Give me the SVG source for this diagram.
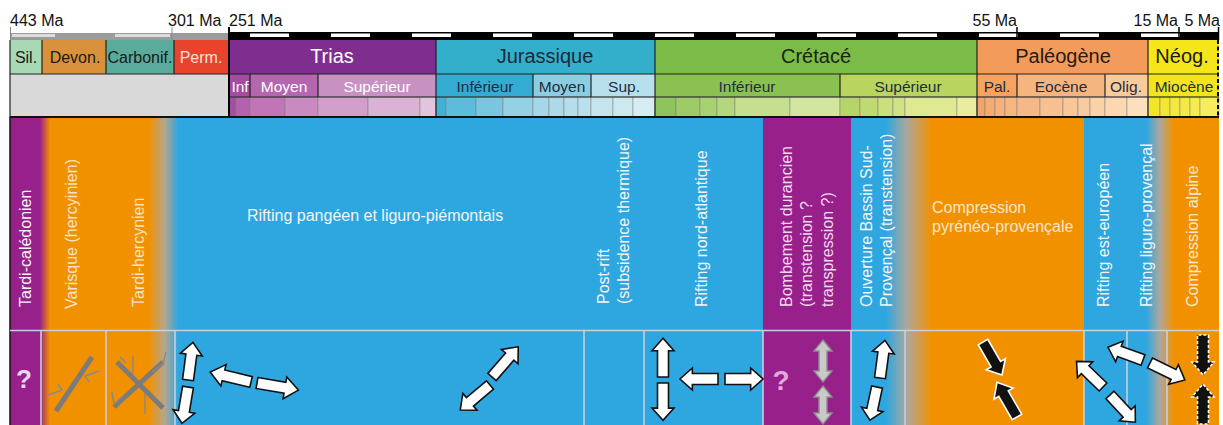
<svg xmlns="http://www.w3.org/2000/svg" width="1223" height="425" viewBox="0 0 1223 425">
<style>
text{font-family:"Liberation Sans",Arial,sans-serif}
.lab{font-size:16px;fill:#111}
.per{font-size:20px;text-anchor:middle}
.sm{font-size:16px;text-anchor:middle;fill:#1a1a1a}
.ep{font-size:15.5px;text-anchor:middle}
.v{font-size:16px;fill:#f4f4f4}
.h{font-size:16px;fill:#f4f4f4}
.bd{stroke:#222;stroke-width:1.2;fill:none}
.st rect{stroke:#7d7d7d;stroke-width:0.5}
.sep{stroke:#c9cfdc;stroke-width:1.6}
.wa{fill:#fff;stroke:#111;stroke-width:1.6;stroke-linejoin:miter}
.ba{fill:#111;stroke:#fff;stroke-width:1.6}
.da{fill:#111;stroke:#fff;stroke-width:1.6;stroke-dasharray:3 2}
.ga{fill:#c9c9c9;stroke:#8e8e8e;stroke-width:1.4}
.fk{stroke:#7b7b7b;stroke-width:5;stroke-linecap:butt}
.ft{stroke:#8a8a8a;stroke-width:1.5;fill:none}
</style>
<defs>
<path id="arr" d="M0,-5.5 H27 V-11 L40,0 L27,11 V5.5 H0 Z" vector-effect="non-scaling-stroke"/>
<linearGradient id="gL" gradientUnits="userSpaceOnUse" x1="10" y1="0" x2="180" y2="0">
<stop offset="0" stop-color="#97208a"/>
<stop offset="0.175" stop-color="#97208a"/>
<stop offset="0.235" stop-color="#f29100"/>
<stop offset="0.815" stop-color="#f29100"/>
<stop offset="0.91" stop-color="#b4a690"/>
<stop offset="0.99" stop-color="#2ea7e0"/>
</linearGradient>
<linearGradient id="gM" gradientUnits="userSpaceOnUse" x1="886" y1="0" x2="932" y2="0">
<stop offset="0" stop-color="#2ea7e0"/>
<stop offset="0.45" stop-color="#aca79c"/>
<stop offset="1" stop-color="#f29100"/>
</linearGradient>
<linearGradient id="gR" gradientUnits="userSpaceOnUse" x1="1146" y1="0" x2="1174" y2="0">
<stop offset="0" stop-color="#2ea7e0"/>
<stop offset="0.5" stop-color="#aca79c"/>
<stop offset="1" stop-color="#f29100"/>
</linearGradient>
</defs>

<g id="scale-labels">
<text class="lab" x="10" y="26">443 Ma</text>
<text class="lab" x="168" y="26">301 Ma</text>
<text class="lab" x="229" y="26">251 Ma</text>
<text class="lab" x="1017" y="26" text-anchor="end">55 Ma</text>
<text class="lab" x="1178" y="26" text-anchor="end">15 Ma</text>
<text class="lab" x="1220" y="26" text-anchor="end">5 Ma</text>
</g>

<g id="scale-bar">
<rect x="10" y="33" width="219" height="7" fill="#9b9b9b"/>
<rect x="12" y="34" width="43" height="3" fill="#dcdcdc"/>
<rect x="115" y="34" width="55" height="3" fill="#dcdcdc"/>
<line x1="10.5" y1="27" x2="10.5" y2="40" stroke="#888" stroke-width="1"/>
<line x1="172" y1="27" x2="172" y2="40" stroke="#888" stroke-width="1"/>
<rect x="229" y="32" width="990" height="8" fill="#000"/>
<g fill="#fff">
<rect x="250" y="33.5" width="39" height="3.5"/>
<rect x="331" y="33.5" width="39" height="3.5"/>
<rect x="412" y="33.5" width="39" height="3.5"/>
<rect x="493" y="33.5" width="39" height="3.5"/>
<rect x="574" y="33.5" width="39" height="3.5"/>
<rect x="655" y="33.5" width="39" height="3.5"/>
<rect x="736" y="33.5" width="39" height="3.5"/>
<rect x="817" y="33.5" width="39" height="3.5"/>
<rect x="898" y="33.5" width="39" height="3.5"/>
<rect x="979" y="33.5" width="39" height="3.5"/>
<rect x="1060" y="33.5" width="39" height="3.5"/>
<rect x="1141" y="33.5" width="39" height="3.5"/>
</g>
<g stroke="#000" stroke-width="1.5">
<line x1="1017" y1="27" x2="1017" y2="40"/>
<line x1="1179" y1="27" x2="1179" y2="40"/>
<line x1="1218.5" y1="27" x2="1218.5" y2="40"/>
</g>
</g>

<g id="periods">
<rect x="10" y="40" width="32" height="34" fill="#a9d8b5"/>
<rect x="42" y="40" width="64" height="34" fill="#d9923b"/>
<rect x="106" y="40" width="68" height="34" fill="#5aab9b"/>
<rect x="174" y="40" width="55" height="34" fill="#e8432c"/>
<rect x="229" y="40" width="207" height="34" fill="#7e2e8e"/>
<rect x="436" y="40" width="219" height="34" fill="#33aecb"/>
<rect x="655" y="40" width="322" height="34" fill="#7bbb48"/>
<rect x="977" y="40" width="171" height="34" fill="#f29b5b"/>
<rect x="1148" y="40" width="71" height="34" fill="#f5e61c"/>
<text class="sm" x="26" y="63">Sil.</text>
<text class="sm" x="75" y="63">Devon.</text>
<text class="sm" x="140" y="63">Carbonif.</text>
<text class="sm" x="201" y="63" fill="#fde2da" style="fill:#fde2da">Perm.</text>
<text class="per" x="332" y="63" fill="#fff">Trias</text>
<text class="per" x="545" y="63" fill="#1b2a3a">Jurassique</text>
<text class="per" x="816" y="63" fill="#1a2412">Crétacé</text>
<text class="per" x="1063" y="63" fill="#2a1a10">Paléogène</text>
<text class="per" x="1182" y="63" fill="#1a1a10">Néog.</text>
</g>

<g id="epochs">
<rect x="10" y="74" width="219" height="43" fill="#d9d9d9"/>
<rect x="229" y="74" width="21" height="23" fill="#a24d9f"/>
<rect x="250" y="74" width="68" height="23" fill="#b467ae"/>
<rect x="318" y="74" width="118" height="23" fill="#c792c2"/>
<rect x="436" y="74" width="97" height="23" fill="#33abd2"/>
<rect x="533" y="74" width="58" height="23" fill="#8ccde2"/>
<rect x="591" y="74" width="64" height="23" fill="#b8e0ec"/>
<rect x="655" y="74" width="185" height="23" fill="#8bc152"/>
<rect x="840" y="74" width="137" height="23" fill="#b9d45f"/>
<rect x="977" y="74" width="40" height="23" fill="#f5a262"/>
<rect x="1017" y="74" width="88" height="23" fill="#f6b47f"/>
<rect x="1105" y="74" width="43" height="23" fill="#f9ca9c"/>
<rect x="1148" y="74" width="71" height="23" fill="#f2e520"/>
<g fill="#fff">
<text class="ep" x="240" y="92">Inf</text>
<text class="ep" x="284" y="92">Moyen</text>
<text class="ep" x="377" y="92">Supérieur</text>
</g>
<g fill="#1e2e3e">
<text class="ep" x="485" y="92">Inférieur</text>
<text class="ep" x="562" y="92">Moyen</text>
<text class="ep" x="624" y="92">Sup.</text>
<text class="ep" x="747" y="92">Inférieur</text>
<text class="ep" x="908" y="92">Supérieur</text>
<text class="ep" x="997" y="92">Pal.</text>
<text class="ep" x="1061" y="92">Eocène</text>
<text class="ep" x="1126" y="92">Olig.</text>
<text class="ep" x="1184" y="92">Miocène</text>
</g>
</g>

<g id="stages" class="st">
<rect x="229" y="97" width="7" height="20" fill="#a14f9f"/>
<rect x="236" y="97" width="14" height="20" fill="#b462ad"/>
<rect x="250" y="97" width="35" height="20" fill="#c175b7"/>
<rect x="285" y="97" width="33" height="20" fill="#c98ac2"/>
<rect x="318" y="97" width="50" height="20" fill="#d29fcb"/>
<rect x="368" y="97" width="52" height="20" fill="#d9b2d4"/>
<rect x="420" y="97" width="16" height="20" fill="#e2c4df"/>
<rect x="436" y="97" width="10" height="20" fill="#3db1d6"/>
<rect x="446" y="97" width="30" height="20" fill="#5bbcdc"/>
<rect x="476" y="97" width="27" height="20" fill="#78c6e0"/>
<rect x="503" y="97" width="30" height="20" fill="#95d1e5"/>
<rect x="533" y="97" width="16" height="20" fill="#a5d7e8"/>
<rect x="549" y="97" width="15" height="20" fill="#add9e8"/>
<rect x="564" y="97" width="14" height="20" fill="#b5ddea"/>
<rect x="578" y="97" width="13" height="20" fill="#bce0eb"/>
<rect x="591" y="97" width="22" height="20" fill="#c5e4ee"/>
<rect x="613" y="97" width="20" height="20" fill="#cde9f0"/>
<rect x="633" y="97" width="22" height="20" fill="#d6edf3"/>
<rect x="655" y="97" width="21" height="20" fill="#8fc45c"/>
<rect x="676" y="97" width="24" height="20" fill="#9ccb67"/>
<rect x="700" y="97" width="17" height="20" fill="#a8d172"/>
<rect x="717" y="97" width="18" height="20" fill="#b4d77d"/>
<rect x="735" y="97" width="55" height="20" fill="#c4e08f"/>
<rect x="790" y="97" width="50" height="20" fill="#d2e6a0"/>
<rect x="840" y="97" width="20" height="20" fill="#b5d56a"/>
<rect x="860" y="97" width="18" height="20" fill="#c0da72"/>
<rect x="878" y="97" width="15" height="20" fill="#cbdf7c"/>
<rect x="893" y="97" width="12" height="20" fill="#d2e283"/>
<rect x="905" y="97" width="52" height="20" fill="#dee992"/>
<rect x="957" y="97" width="20" height="20" fill="#e8ee9e"/>
<rect x="977" y="97" width="8" height="20" fill="#f5a469"/>
<rect x="985" y="97" width="10" height="20" fill="#f6ab72"/>
<rect x="995" y="97" width="10" height="20" fill="#f6b07a"/>
<rect x="1005" y="97" width="12" height="20" fill="#f7b680"/>
<rect x="1017" y="97" width="23" height="20" fill="#f7b888"/>
<rect x="1040" y="97" width="23" height="20" fill="#f8c090"/>
<rect x="1063" y="97" width="15" height="20" fill="#f9c698"/>
<rect x="1078" y="97" width="12" height="20" fill="#f9cca0"/>
<rect x="1090" y="97" width="15" height="20" fill="#fad2a8"/>
<rect x="1105" y="97" width="22" height="20" fill="#fbd8b2"/>
<rect x="1127" y="97" width="21" height="20" fill="#fcdfbc"/>
<rect x="1148" y="97" width="12" height="20" fill="#f2e52a"/>
<rect x="1160" y="97" width="10" height="20" fill="#f3e634"/>
<rect x="1170" y="97" width="10" height="20" fill="#f4e83e"/>
<rect x="1180" y="97" width="10" height="20" fill="#f4e948"/>
<rect x="1190" y="97" width="10" height="20" fill="#f5ea52"/>
<rect x="1200" y="97" width="19" height="20" fill="#f6ec60"/>
</g>

<g id="chart-borders">
<line class="bd" x1="10" y1="74" x2="1219" y2="74"/>
<line class="bd" x1="229" y1="97" x2="1219" y2="97"/>
<g class="bd">
<line x1="42" y1="40" x2="42" y2="74"/>
<line x1="106" y1="40" x2="106" y2="74"/>
<line x1="174" y1="40" x2="174" y2="74"/>
<line x1="250" y1="74" x2="250" y2="97"/>
<line x1="318" y1="74" x2="318" y2="97"/>
<line x1="533" y1="74" x2="533" y2="97"/>
<line x1="591" y1="74" x2="591" y2="97"/>
<line x1="840" y1="74" x2="840" y2="97"/>
<line x1="1017" y1="74" x2="1017" y2="97"/>
<line x1="1105" y1="74" x2="1105" y2="97"/>
<line x1="10" y1="40" x2="10" y2="117"/>
<line x1="436" y1="40" x2="436" y2="117"/>
<line x1="655" y1="40" x2="655" y2="117"/>
<line x1="977" y1="40" x2="977" y2="117"/>
<line x1="1148" y1="40" x2="1148" y2="117"/>
</g>
<line x1="229" y1="27" x2="229" y2="117" stroke="#000" stroke-width="2"/>
<line x1="1218" y1="40" x2="1218" y2="117" stroke="#000" stroke-width="2" stroke-dasharray="4 2.5"/>
</g>

<g id="band">
<rect x="10" y="117" width="1209" height="308" fill="#2ea7e0"/>
<rect x="10" y="117" width="170" height="308" fill="url(#gL)"/>
<rect x="763" y="117" width="88" height="308" fill="#97208a"/>
<rect x="886" y="117" width="46" height="308" fill="url(#gM)"/>
<rect x="931" y="117" width="153" height="308" fill="#f29100"/>
<rect x="1146" y="117" width="28" height="308" fill="url(#gR)"/>
<rect x="1173" y="117" width="46" height="308" fill="#f29100"/>
<line x1="10" y1="117" x2="1219" y2="117" stroke="#111" stroke-width="2"/>
<line x1="10" y1="117" x2="10" y2="425" stroke="#111" stroke-width="1.5"/>
</g>

<g id="labels">
<text class="v" transform="translate(31,307) rotate(-90)">Tardi-calédonien</text>
<text class="v" transform="translate(77,309) rotate(-90)" style="fill:#f7e2c4">Varisque (hercyinien)</text>
<text class="v" transform="translate(144,307) rotate(-90)" style="fill:#f7e2c4">Tardi-hercynien</text>
<text class="h" x="247" y="221">Rifting pangéen et liguro-piémontais</text>
<text class="v" transform="translate(609,304) rotate(-90)">Post-rift</text>
<text class="v" transform="translate(629,304) rotate(-90)">(subsidence thermique)</text>
<text class="v" transform="translate(707,307) rotate(-90)">Rifting nord-atlantique</text>
<text class="v" transform="translate(792,307) rotate(-90)" style="fill:#f2d8ee">Bombement durancien</text>
<text class="v" transform="translate(812,307) rotate(-90)" style="fill:#f2d8ee">(transtension ?</text>
<text class="v" transform="translate(833,307) rotate(-90)" style="fill:#f2d8ee">transpression ?)</text>
<text class="v" transform="translate(872,307) rotate(-90)">Ouverture Bassin Sud-</text>
<text class="v" transform="translate(892,307) rotate(-90)">Provençal (transtension)</text>
<text class="h" x="932" y="213" style="fill:#f9e6c8">Compression</text>
<text class="h" x="932" y="232" style="fill:#f9e6c8">pyrénéo-provençale</text>
<text class="v" transform="translate(1109,307) rotate(-90)">Rifting est-européen</text>
<text class="v" transform="translate(1152,307) rotate(-90)">Rifting liguro-provençal</text>
<text class="v" transform="translate(1198,307) rotate(-90)" style="fill:#f9e6c8">Compression alpine</text>
</g>

<g id="lower-row">
<line class="sep" x1="10" y1="330.5" x2="1219" y2="330.5" stroke-width="2"/>
<g class="sep">
<line x1="41" y1="331" x2="41" y2="425"/>
<line x1="106" y1="331" x2="106" y2="425"/>
<line x1="175" y1="331" x2="175" y2="425"/>
<line x1="584" y1="331" x2="584" y2="425"/>
<line x1="644" y1="331" x2="644" y2="425"/>
<line x1="763" y1="331" x2="763" y2="425"/>
<line x1="851" y1="331" x2="851" y2="425"/>
<line x1="905" y1="331" x2="905" y2="425"/>
<line x1="1084" y1="331" x2="1084" y2="425"/>
<line x1="1127" y1="331" x2="1127" y2="425"/>
<line x1="1167" y1="331" x2="1167" y2="425"/>
</g>
</g>

<g id="symbols">
<text x="24" y="388" font-size="26" font-weight="bold" text-anchor="middle" fill="#ead6ea">?</text>
<text x="781" y="390" font-size="28" font-weight="bold" text-anchor="middle" fill="#e2a6de">?</text>
<g id="varisque-fault">
<line class="fk" x1="56" y1="411" x2="92" y2="357"/>
<polyline class="ft" points="48,395 62,390 58,384"/>
<polyline class="ft" points="99,371 85,376 89,382"/>
</g>
<g id="tardi-hercynien-faults">
<line class="fk" x1="117" y1="362" x2="163" y2="408"/>
<line class="fk" x1="163" y1="362" x2="114" y2="407"/>
<polyline class="ft" points="133,356 133,374"/>
<polyline class="ft" points="145,393 145,414"/>
<polyline class="ft" points="112,392 114,404 123,396"/>
<polyline class="ft" points="152,372 163,364 166,352"/>
<polyline class="ft" points="120,357 126,363"/>
</g>
</g>

<g id="arrows">
<use href="#arr" class="wa" transform="translate(188,380) rotate(-82.5) scale(0.95,1)"/>
<use href="#arr" class="wa" transform="translate(188,387) rotate(99.5) scale(0.92,1)"/>
<use href="#arr" class="wa" transform="translate(251,382) rotate(-166.3) scale(1.05,1)"/>
<use href="#arr" class="wa" transform="translate(257,383) rotate(9.7) scale(1.05,1)"/>
<use href="#arr" class="wa" transform="translate(492,377) rotate(-49)"/>
<use href="#arr" class="wa" transform="translate(490,385) rotate(140) scale(0.97,1)"/>
<use href="#arr" class="wa" transform="translate(663,377) rotate(-90) scale(0.97,1)"/>
<use href="#arr" class="wa" transform="translate(663,383) rotate(90) scale(0.93,1)"/>
<use href="#arr" class="wa" transform="translate(718,379) rotate(180) scale(0.95,1)"/>
<use href="#arr" class="wa" transform="translate(725,379) scale(0.95,1)"/>
<path class="ga" d="M823,340 L832,351 H827 V371 H832 L823,382 L814,371 H819 V351 H814 Z"/>
<path class="ga" d="M823,386 L832,397 H827 V413 H832 L823,424 L814,413 H819 V397 H814 Z"/>
<use href="#arr" class="wa" transform="translate(880,378) rotate(-82.5) scale(0.95,1)"/>
<use href="#arr" class="wa" transform="translate(877,387) rotate(102) scale(0.85,1)"/>
<use href="#arr" class="ba" transform="translate(983,342) rotate(60) scale(0.95,1)"/>
<use href="#arr" class="ba" transform="translate(1017,417) rotate(-120)"/>
<use href="#arr" class="wa" transform="translate(1103,387) rotate(-136) scale(0.92,1)"/>
<use href="#arr" class="wa" transform="translate(1110,395) rotate(47) scale(0.93,1)"/>
<use href="#arr" class="wa" transform="translate(1143,360) rotate(-160) scale(0.93,1)"/>
<use href="#arr" class="wa" transform="translate(1150,363) rotate(26) scale(0.97,1)"/>
<use href="#arr" class="da" transform="translate(1203,335) rotate(90)"/>
<use href="#arr" class="da" transform="translate(1203,424) rotate(-90)"/>
</g>
</svg>
